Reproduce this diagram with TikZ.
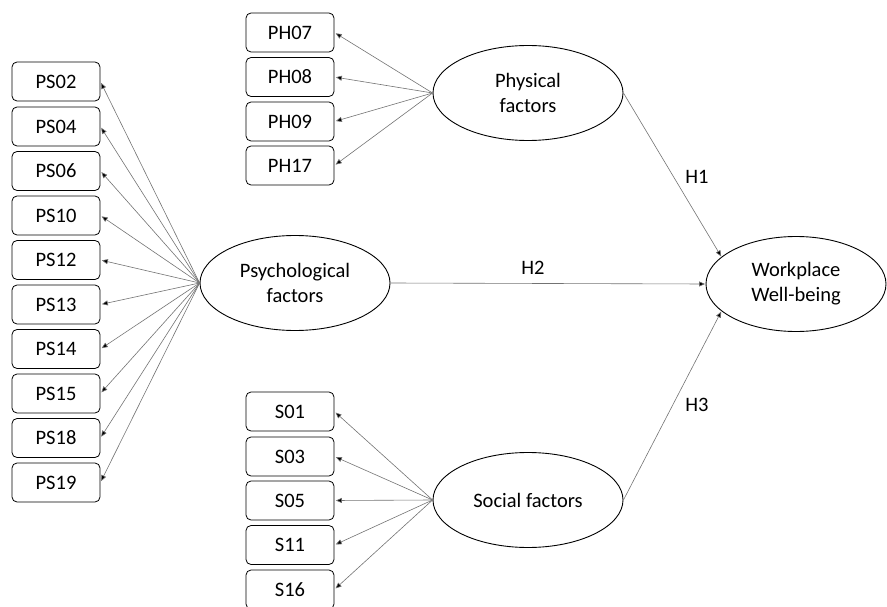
\documentclass[tikz,border=0pt]{standalone}
\usepackage{fontspec}
\setmainfont{Carlito}
\usetikzlibrary{shapes.geometric,arrows.meta}
\begin{document}
\begin{tikzpicture}[x=1pt,y=-1pt,
  every node/.style={font=\fontsize{20.5}{25}\selectfont},
  item/.style={draw=black,line width=0.8pt,rounded corners=5pt,minimum width=88pt,minimum height=39pt,inner sep=0pt},
  latent/.style={draw=black,line width=0.9pt,ellipse,minimum width=190pt,minimum height=95pt,inner sep=0pt,align=center},
  load/.style={draw=black!55,line width=0.6pt,-{Triangle[length=6pt,width=5pt,fill=black]},shorten >=1.5pt},
  lbl/.style={inner sep=0pt}]
\useasboundingbox (0,0) rectangle (887,607);
% latent constructs
\node[latent] (psy) at (295,283) {Psychological\\factors};
\node[latent] (phy) at (528,93) {Physical\\factors};
\node[latent] (soc) at (528,500) {Social factors};
\node[latent,minimum width=180pt] (wp) at (796,284) {Workplace\\Well-being};
% PS items
\foreach \n/\y in {PS02/81.5,PS04/126.5,PS06/171,PS10/215.5,PS12/260,PS13/304.5,PS14/349,PS15/393.5,PS18/438,PS19/482.5}{
  \node[item] (\n) at (56,\y) {\n};
  \draw[load] (psy.west) -- (\n.east);
}
% PH items
\foreach \n/\y in {PH07/32.5,PH08/77,PH09/121.5,PH17/165.5}{
  \node[item] (\n) at (290,\y) {\n};
  \draw[load] (phy.west) -- (\n.east);
}
% S items
\foreach \n/\y in {S01/411.5,S03/456.5,S05/500.5,S11/545,S16/589.5}{
  \node[item] (\n) at (290,\y) {\n};
  \draw[load] (soc.west) -- (\n.east);
}
% structural paths
\draw[load,shorten >=0.5pt] (phy.east) -- (wp.160);
\draw[load,shorten >=0.5pt] (psy.east) -- (wp.west);
\draw[load,shorten >=0.5pt] (soc.east) -- (wp.200);
\node[lbl] (h1) at (697,177) {H1};
\node[lbl] (h2) at (533,268) {H2};
\node[lbl] (h3) at (697,405) {H3};
\end{tikzpicture}
\end{document}
